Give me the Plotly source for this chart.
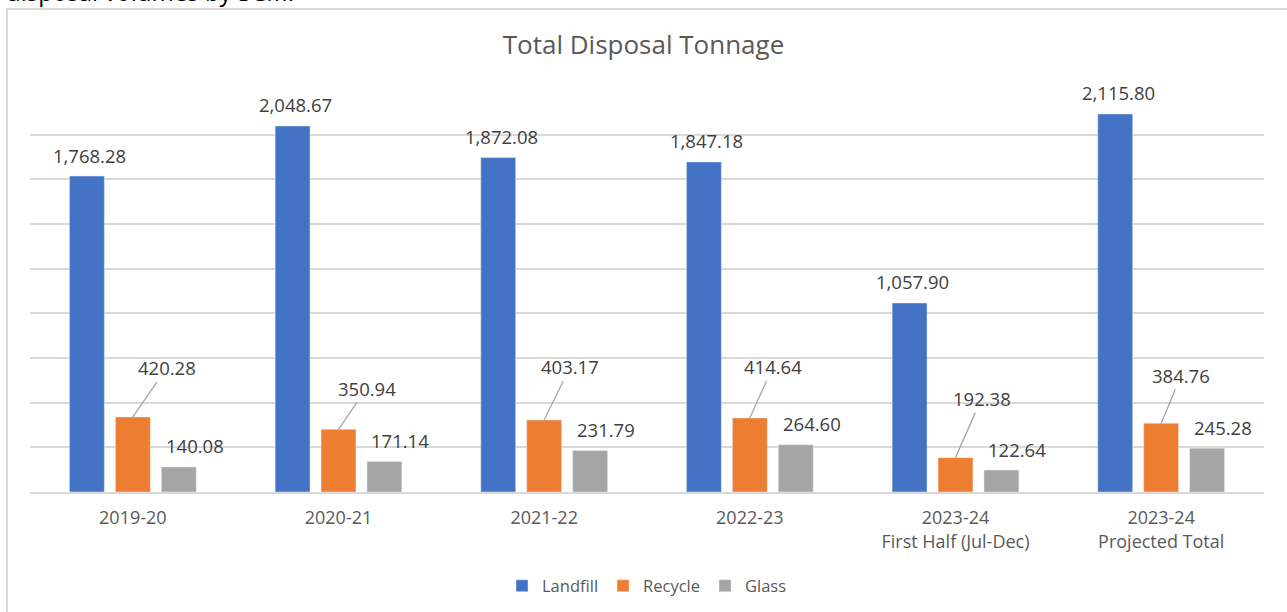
import plotly.graph_objects as go

categories = ["2019-20", "2020-21", "2021-22", "2022-23",
              "2023-24<br>First Half (Jul-Dec)", "2023-24<br>Projected Total"]
landfill = [1768.28, 2048.67, 1872.08, 1847.18, 1057.90, 2115.80]
recycle = [420.28, 350.94, 403.17, 414.64, 192.38, 384.76]
glass = [140.08, 171.14, 231.79, 264.60, 122.64, 245.28]

# label placement style (pixel offsets of the recycle callouts)
recycle_dx = [34, 28, 26, 23, 26, 20]
recycle_dy = [-49, -41, -53, -51, -59, -48]

W, H = 1287, 612
ML, MR, MT, MB = 30, 23, 90, 120
BARGAP, BARGROUPGAP = 0.33, 0.24
plot_w = W - ML - MR
plot_h = H - MT - MB
slot = plot_w / len(categories) * (1 - BARGAP) / 3

FONT = "Open Sans"
LABEL_COLOR = "#404040"
LABEL_SIZE = 18.5

fig = go.Figure()
fig.add_bar(x=categories, y=landfill, name="Landfill", marker_color="#4472C4")
fig.add_bar(x=categories, y=recycle, name="Recycle", marker_color="#ED7D31")
fig.add_bar(x=categories, y=glass, name="Glass", marker_color="#A5A5A5")

annotations = []
for i, c in enumerate(categories):
    annotations.append(dict(x=c, y=landfill[i], text=f"{landfill[i]:,.2f}", showarrow=False,
                            xshift=-slot + 3, yshift=21, yanchor="middle",
                            font=dict(family=FONT, size=LABEL_SIZE, color=LABEL_COLOR)))
    annotations.append(dict(x=c, y=recycle[i], text=f"{recycle[i]:,.2f}", showarrow=True,
                            arrowhead=0, arrowwidth=1.3, arrowcolor="#A6A6A6",
                            ax=recycle_dx[i], ay=recycle_dy[i], standoff=0,
                            font=dict(family=FONT, size=LABEL_SIZE, color=LABEL_COLOR)))
    annotations.append(dict(x=c, y=glass[i], text=f"{glass[i]:,.2f}", showarrow=False,
                            xshift=slot + 16, yshift=21, yanchor="middle",
                            font=dict(family=FONT, size=LABEL_SIZE, color=LABEL_COLOR)))

annotations.append(dict(xref="paper", yref="paper", x=(4 - ML) / plot_w, y=1 + (MT - 10) / plot_h,
                        xanchor="left", yanchor="bottom", text="disposal volumes by SCM.",
                        showarrow=False, font=dict(family=FONT, size=24, color="#000000")))

fig.update_layout(
    width=W, height=H,
    margin=dict(l=ML, r=MR, t=MT, b=MB, autoexpand=False),
    paper_bgcolor="white", plot_bgcolor="white",
    barmode="group", bargap=BARGAP, bargroupgap=BARGROUPGAP,
    title=dict(text="Total Disposal Tonnage", x=0.5, xanchor="center",
               y=1 - 45 / H, yanchor="middle",
               font=dict(family=FONT, size=26, color="#595959")),
    font=dict(family=FONT, color="#595959"),
    xaxis=dict(tickfont=dict(family=FONT, size=18, color="#595959"), showline=True,
               linecolor="#D9D9D9", linewidth=1.5, ticks="", showgrid=False,
               ticklabelstandoff=9, automargin=False),
    yaxis=dict(range=[0, 2250], dtick=250, showticklabels=False, showgrid=True,
               gridcolor="#D9D9D9", gridwidth=1.5, zeroline=False, ticks="",
               automargin=False),
    legend=dict(orientation="h", x=0.5, xanchor="center", y=-(586 - 492) / plot_h,
                yanchor="middle", font=dict(family=FONT, size=16.5, color="#595959"),
                itemwidth=30, traceorder="normal"),
    annotations=annotations,
    shapes=[dict(type="rect", xref="paper", yref="paper",
                 x0=(7 - ML) / plot_w, x1=(W + 5 - ML) / plot_w,
                 y0=-(MB + 10) / plot_h, y1=1 + (MT - 9) / plot_h,
                 line=dict(color="#D9D9D9", width=2), layer="below")],
)

fig.write_html("out.html", config={"displayModeBar": False},
               post_script="document.body.style.margin='0';document.body.style.overflow='hidden';")
